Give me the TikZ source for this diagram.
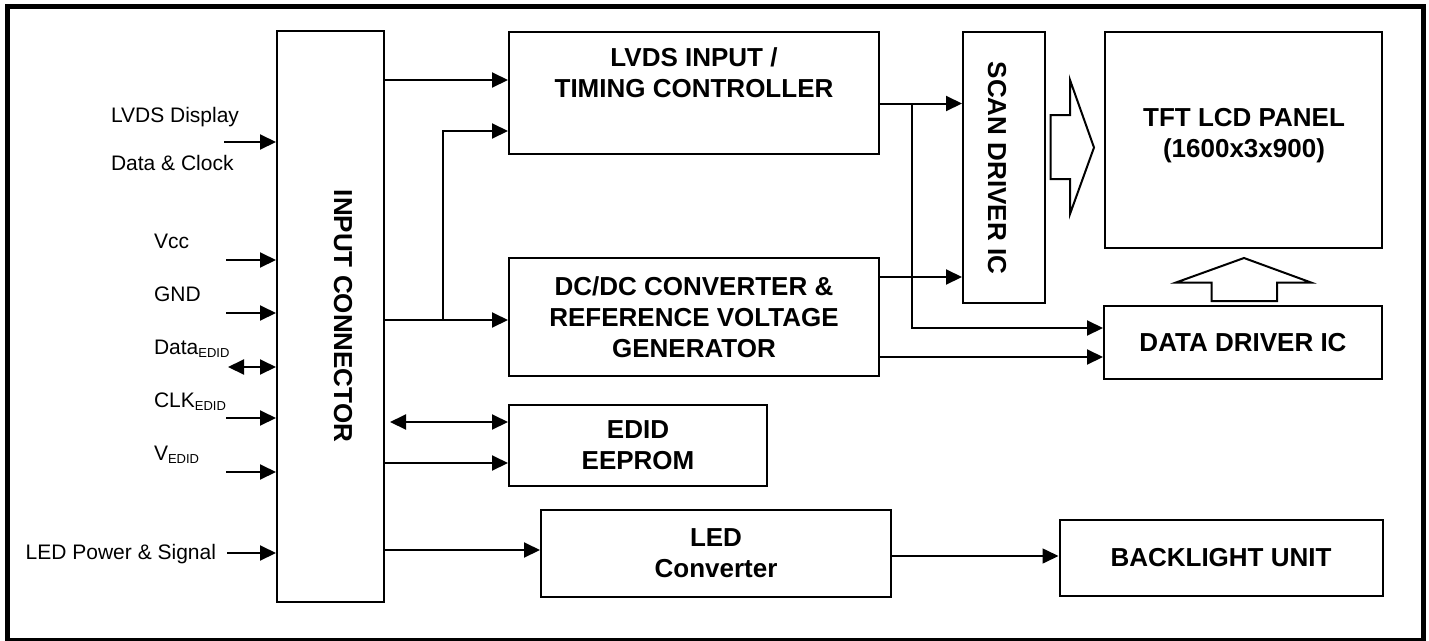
\documentclass[tikz,border=0pt]{standalone}
\usepackage{fontspec}
\setmainfont{Liberation Sans}
\usetikzlibrary{arrows.meta}
\begin{document}
\begin{tikzpicture}[
    x=1pt, y=-1pt,
    line width=2pt,
    box/.style={draw, rectangle, inner sep=0pt},
    boxtext/.style={font=\fontsize{26}{31}\selectfont\bfseries, align=center, inner sep=0pt},
    lbl/.style={font=\fontsize{21}{24}\selectfont, anchor=base west, inner sep=0pt},
    arr/.style={-{Triangle[length=16pt,width=15pt]}},
    darr/.style={{Triangle[length=16pt,width=15pt]}-{Triangle[length=16pt,width=15pt]}},
    hollow/.style={draw, line width=2pt, line join=miter}
]
\useasboundingbox (0,0) rectangle (1429,640);
\draw[line width=5pt] (7.5,6.5) rectangle (1423.5,640.5);

\node[box, minimum width=107pt, minimum height=571pt] (conn) at (330.5,316.5) {};
\node[boxtext, rotate=-90] (conntxt) at (343,316) {INPUT CONNECTOR};
\node[box, minimum width=370pt, minimum height=122pt] (lvds) at (694,93) {};
\node[boxtext] (lvdstxt) at (694,73) {LVDS INPUT /\\TIMING CONTROLLER};
\node[box, boxtext, minimum width=370pt, minimum height=118pt] (dcdc) at (694,317) {DC/DC CONVERTER \&\\REFERENCE VOLTAGE\\GENERATOR};
\node[box, minimum width=82pt, minimum height=271pt] (scan) at (1004,167.5) {};
\node[boxtext, rotate=-90] (scantxt) at (997,168) {SCAN DRIVER IC};
\node[box, minimum width=277pt, minimum height=216pt] (panel) at (1243.5,140) {};
\node[boxtext] (paneltxt) at (1244,136) {TFT LCD PANEL\\(1600x3x900)};
\node[box, boxtext, minimum width=278pt, minimum height=73pt] (ddrv) at (1243,342.5) {DATA DRIVER IC};
\node[box, boxtext, minimum width=258pt, minimum height=81pt] (edid) at (638,445.5) {EDID\\EEPROM};
\node[box, boxtext, minimum width=350pt, minimum height=87pt] (ledc) at (716,553.5) {LED\\Converter};
\node[box, boxtext, minimum width=323pt, minimum height=76pt] (blu) at (1221,558) {BACKLIGHT UNIT};

\node[lbl] (lvdsa) at (110,122) {LVDS Display};
\node[lbl] (lvdsb) at (110,170) {Data \& Clock};
\node[lbl] (vcc) at (153,248) {Vcc};
\node[lbl] (gnd) at (153,301) {GND};
\node[lbl] (dedid) at (153,354) {Data\raisebox{-3.5pt}{\fontsize{13}{13}\selectfont EDID}};
\node[lbl] (cedid) at (153,407) {CLK\raisebox{-3.5pt}{\fontsize{13}{13}\selectfont EDID}};
\node[lbl] (vedid) at (153,460) {V\raisebox{-3.5pt}{\fontsize{13}{13}\selectfont EDID}};
\node[lbl, anchor=base east] (ledps) at (217,559) {LED Power \& Signal};

\coordinate (i1) at (224,142);
\coordinate (i2) at (226,260);
\coordinate (i3) at (226,313);
\coordinate (i4) at (228,367);
\coordinate (i5) at (226,418);
\coordinate (i6) at (226,472);
\coordinate (i7) at (227,553);
\foreach \p in {i1,i2,i3,i5,i6,i7}
    \draw[arr] (\p) -- (\p -| conn.west);
\draw[darr] (i4) -- (i4 -| conn.west);

\coordinate (o1) at (384,80);
\coordinate (o2) at (384,320);
\coordinate (j1) at (443,320);
\coordinate (k1) at (443,131);
\coordinate (e1) at (390,422);
\coordinate (e2) at (384,463);
\coordinate (l1) at (384,550);
\draw[arr] (o1) -- (o1 -| lvds.west);
\draw[arr] (o2) -- (o2 -| dcdc.west);
\draw[arr] (j1) -- (k1) -- (k1 -| lvds.west);
\draw[darr] (e1) -- (e1 -| edid.west);
\draw[arr] (e2) -- (e2 -| edid.west);
\draw[arr] (l1) -- (l1 -| ledc.west);

\coordinate (t1) at (879,103.5);
\coordinate (j2) at (912,103.5);
\coordinate (k2) at (912,328);
\coordinate (d1) at (879,277);
\coordinate (d2) at (879,357);
\coordinate (b1) at (891,556);
\draw[arr] (t1) -- (t1 -| scan.west);
\draw[arr] (j2) -- (k2) -- (k2 -| ddrv.west);
\draw[arr] (d1) -- (d1 -| scan.west);
\draw[arr] (d2) -- (d2 -| ddrv.west);
\draw[arr, line width=1.6pt] (b1) -- (b1 -| blu.west);

\draw[hollow] (1050.5,115) -- (1070,115) -- (1070,80) -- (1094,147.5) -- (1070,214) -- (1070,179) -- (1050.5,179) -- cycle;
\draw[hollow] (1211.5,301) -- (1211.5,282.5) -- (1176,282.5) -- (1244,258) -- (1311,282.5) -- (1277,282.5) -- (1277,301) -- cycle;
\end{tikzpicture}
\end{document}
